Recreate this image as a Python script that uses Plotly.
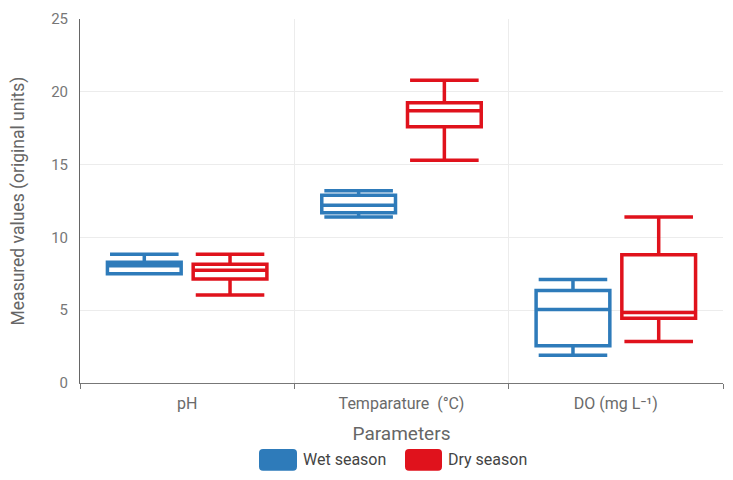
import plotly.graph_objects as go

categories = ["pH", "Temparature\u00a0 (°C)", "DO (mg L⁻¹)"]
series_names = ["Wet season", "Dry season"]

wet_lower = [7.5, 11.4, 1.9]
wet_q1 = [7.5, 11.7, 2.55]
wet_median = [8.05, 12.2, 5.05]
wet_q3 = [8.3, 12.9, 6.35]
wet_upper = [8.85, 13.2, 7.1]

dry_lower = [6.05, 15.3, 2.85]
dry_q1 = [7.15, 17.6, 4.45]
dry_median = [7.75, 18.7, 4.85]
dry_q3 = [8.15, 19.25, 8.8]
dry_upper = [8.85, 20.8, 11.4]

y_ticks = [0, 5, 10, 15, 20, 25]

blue = "#2E7BBA"
red = "#E0121C"
font = "Roboto"

fig = go.Figure()
fig.add_trace(go.Box(
    name=series_names[0], x=categories,
    q1=wet_q1, median=wet_median, q3=wet_q3,
    lowerfence=wet_lower, upperfence=wet_upper,
    line=dict(color=blue, width=3.5), fillcolor="rgba(255,255,255,0)",
    whiskerwidth=0.93, showlegend=False, boxpoints=False,
))
fig.add_trace(go.Box(
    name=series_names[1], x=categories,
    q1=dry_q1, median=dry_median, q3=dry_q3,
    lowerfence=dry_lower, upperfence=dry_upper,
    line=dict(color=red, width=3.5), fillcolor="rgba(255,255,255,0)",
    whiskerwidth=0.93, showlegend=False, boxpoints=False,
))

# manual legend
legend_items = [(series_names[0], blue, 259, 297), (series_names[1], red, 405, 442)]
W, H = 733, 480
ml, mr, mt, mb = 80, 10, 14, 97
pw, ph = W - ml - mr, H - mt - mb
shapes = []
annotations = []
for name, col, x0, x1 in legend_items:
    y0, y1 = 450, 472
    px0 = (x0 - ml) / pw
    px1 = (x1 - ml) / pw
    py0 = 1 - (y1 - mt) / ph
    py1 = 1 - (y0 - mt) / ph
    r = 4
    rx = r / pw
    ry = r / ph
    path = (f"M {px0+rx},{py0} L {px1-rx},{py0} Q {px1},{py0} {px1},{py0+ry} "
            f"L {px1},{py1-ry} Q {px1},{py1} {px1-rx},{py1} L {px0+rx},{py1} "
            f"Q {px0},{py1} {px0},{py1-ry} L {px0},{py0+ry} Q {px0},{py0} {px0+rx},{py0} Z")
    shapes.append(dict(type="path", xref="paper", yref="paper", path=path,
                       fillcolor=col, line=dict(width=0)))
    annotations.append(dict(xref="paper", yref="paper", x=(x1 + 4 - ml) / pw,
                            y=1 - (461 - mt) / ph, text=name, showarrow=False,
                            xanchor="left", yanchor="middle",
                            font=dict(family=font, size=16, color="#444")))

fig.update_layout(
    width=W, height=H,
    margin=dict(l=ml, r=mr, t=mt, b=mb),
    paper_bgcolor="white", plot_bgcolor="white",
    boxmode="group", boxgap=0.2, boxgroupgap=0.14,
    font=dict(family=font, color="#666"),
    shapes=shapes, annotations=annotations,
    showlegend=False,
)
fig.update_xaxes(
    type="category", tickson="boundaries", ticks="outside", ticklen=5,
    tickcolor="#777", showline=True, linecolor="#777", linewidth=1,
    showgrid=True, gridcolor="#ececec", gridwidth=1,
    tickfont=dict(family=font, size=16, color="#6a6a6a"), ticklabelstandoff=6,
    title=dict(text="Parameters", font=dict(family=font, size=19, color="#666"), standoff=14),
)
fig.update_yaxes(
    range=[0, 25], tickvals=y_ticks, showline=True, linecolor="#666", linewidth=1,
    showgrid=True, gridcolor="#ececec", gridwidth=1, zeroline=False,
    ticks="", tickfont=dict(family=font, size=15, color="#777"), ticklabelstandoff=8,
    title=dict(text="Measured values (original units)",
               font=dict(family=font, size=17.5, color="#666"), standoff=22),
)
fig.write_html("out.html")
